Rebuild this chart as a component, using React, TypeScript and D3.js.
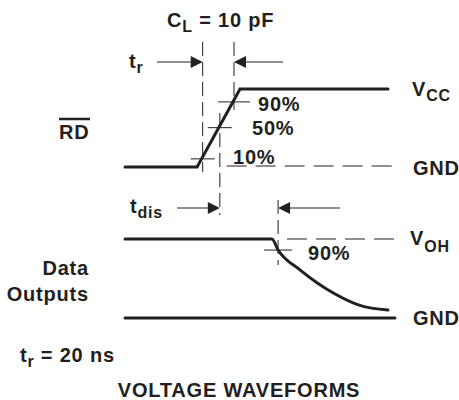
import React from 'react';
import * as d3 from 'd3';

// RD input waveform (time units, level 0 = GND, 1 = VCC)
const rdTime = [0, 26.7, 42.6, 97.4];
const rdLevel = [0, 0, 1, 1];

// Data output waveform (level 0 = GND, 1 = VOH)
const outTime = [0, 54.4, 56.7, 64.8, 77, 87, 97.4];
const outLevel = [1, 1, 0.86, 0.61, 0.32, 0.16, 0.1];

// threshold marks on the RD edge
const rdMarkLabels = ['90%', '50%', '10%'];
const rdMarkLevels = [0.86, 0.53, 0.13];
const outMarkLabel = '90%';
const outMarkLevel = 0.86;

const W = 459;
const H = 400;
const FONT = '"Liberation Sans", Arial, Helvetica, sans-serif';
const INK = '#231f20';

const x = d3.scaleLinear().domain([0, 100]).range([125, 395]);
const yRd = d3.scaleLinear().domain([0, 1]).range([167, 89]);
const yOut = d3.scaleLinear().domain([0, 1]).range([318, 239]);

// time at which a piecewise-linear waveform crosses a level
function crossing(ts: number[], ls: number[], lv: number) {
  for (let i = 0; i < ts.length - 1; i++) {
    const a = ls[i], b = ls[i + 1];
    if ((a - lv) * (b - lv) <= 0 && a !== b) {
      return ts[i] + ((lv - a) / (b - a)) * (ts[i + 1] - ts[i]);
    }
  }
  return ts[0];
}

function Arrow({ x1, x2, y, dir }: { x1: number; x2: number; y: number; dir: 'right' | 'left' }) {
  // x2 is the tip
  const hl = 12, hw = 6;
  const base = dir === 'right' ? x2 - hl : x2 + hl;
  return (
    <g>
      <line x1={x1} x2={base} y1={y} y2={y} stroke={INK} strokeWidth={1} />
      <path d={`M${x2},${y}L${base},${y - hw}L${base},${y + hw}Z`} fill={INK} />
    </g>
  );
}

export default function App() {
  const rdPts = rdTime.map((t, i) => [x(t), yRd(rdLevel[i])] as [number, number]);
  const outPts = outTime.map((t, i) => [x(t), yOut(outLevel[i])] as [number, number]);
  const lineLin = d3.line().curve(d3.curveLinear);
  const lineCurve = d3.line().curve(d3.curveMonotoneX);

  const rdX = rdMarkLevels.map(lv => x(crossing(rdTime, rdLevel, lv)));
  const outX = x(crossing(outTime.slice(1, 3), outLevel.slice(1, 3), outMarkLevel));
  const x90 = rdX[0], x50 = rdX[1], x10 = rdX[2];

  const dash = '20,9';
  const vdash = '14,6';
  const txt = { fontFamily: FONT, fontWeight: 700, fontSize: 20, letterSpacing: 0.8, fill: INK } as const;
  const sub = 16;

  return (
    <svg width={W} height={H} style={{ position: 'absolute', left: 0, top: 0, background: '#fff' }}>
      {/* title */}
      <text x={167} y={27} {...txt}>
        C<tspan fontSize={sub} dy={5}>L</tspan><tspan dy={-5}> = 10 pF</tspan>
      </text>

      {/* t_r arrows */}
      <text x={129} y={68} {...txt}>
        t<tspan fontSize={sub} dy={5}>r</tspan>
      </text>
      <Arrow x1={157} x2={x10} y={62} dir="right" />
      <Arrow x1={283} x2={x90} y={62} dir="left" />

      {/* vertical dashed reference lines */}
      <line x1={x10} x2={x10} y1={42} y2={172} stroke={INK} strokeWidth={1} strokeDasharray={vdash} />
      <line x1={x90} x2={x90} y1={42} y2={110} stroke={INK} strokeWidth={1} strokeDasharray={vdash} />
      <line x1={x50} x2={x50} y1={113} y2={215} stroke={INK} strokeWidth={1} strokeDasharray={vdash} />

      {/* RD GND dashed */}
      <line x1={x10 + 24} x2={397} y1={yRd(0) - 1} y2={yRd(0) - 1} stroke={INK} strokeWidth={1} strokeDasharray={dash} />

      {/* threshold ticks on RD edge */}
      {rdMarkLevels.map((lv, i) => (
        <line key={i} x1={rdX[i] - (i === 0 ? 16 : 12)} x2={rdX[i] + (i === 0 ? 16 : 12)}
          y1={yRd(lv) + 2} y2={yRd(lv) + 2} stroke={INK} strokeWidth={1} />
      ))}
      <text x={258} y={111} {...txt}>{rdMarkLabels[0]}</text>
      <text x={252} y={135} {...txt}>{rdMarkLabels[1]}</text>
      <text x={233} y={164} {...txt}>{rdMarkLabels[2]}</text>

      {/* RD waveform */}
      <path d={lineLin(rdPts) || ''} fill="none" stroke={INK} strokeWidth={3} strokeLinejoin="miter" strokeLinecap="round" />

      {/* RD labels */}
      <text x={59} y={139} {...txt}>RD</text>
      <line x1={59} x2={90} y1={119} y2={119} stroke={INK} strokeWidth={2.5} />
      <text x={412} y={96} {...txt}>
        V<tspan fontSize={sub} dy={5}>CC</tspan>
      </text>
      <text x={413} y={175} {...txt}>GND</text>

      {/* t_dis */}
      <text x={130} y={213} {...txt}>
        t<tspan fontSize={sub} dy={5}>dis</tspan>
      </text>
      <Arrow x1={177} x2={x50} y={208} dir="right" />
      <Arrow x1={340} x2={outX} y={208} dir="left" />
      <line x1={outX} x2={outX} y1={200} y2={265} stroke={INK} strokeWidth={1} strokeDasharray={vdash} />

      {/* VOH dashed */}
      <line x1={287} x2={397} y1={yOut(1)} y2={yOut(1)} stroke={INK} strokeWidth={1} strokeDasharray={dash} />
      <line x1={outX - 14} x2={outX + 14} y1={yOut(outMarkLevel)} y2={yOut(outMarkLevel)} stroke={INK} strokeWidth={1} />
      <text x={308} y={260} {...txt}>{outMarkLabel}</text>

      {/* output waveform */}
      <path d={lineCurve(outPts) || ''} fill="none" stroke={INK} strokeWidth={3} strokeLinecap="round" />
      <line x1={x(0)} x2={x(100)} y1={yOut(0)} y2={yOut(0)} stroke={INK} strokeWidth={3} strokeLinecap="round" />

      {/* output labels */}
      <text x={89} y={275} textAnchor="end" {...txt}>Data</text>
      <text x={89} y={301} textAnchor="end" {...txt}>Outputs</text>
      <text x={410} y={245} {...txt}>
        V<tspan fontSize={sub} dy={7}>OH</tspan>
      </text>
      <text x={413} y={325} {...txt}>GND</text>

      {/* footer */}
      <text x={20} y={362} {...txt}>
        t<tspan fontSize={sub} dy={5}>r</tspan><tspan dy={-5}> = 20 ns</tspan>
      </text>
      <text x={239} y={397} textAnchor="middle" {...txt}>VOLTAGE WAVEFORMS</text>
    </svg>
  );
}
